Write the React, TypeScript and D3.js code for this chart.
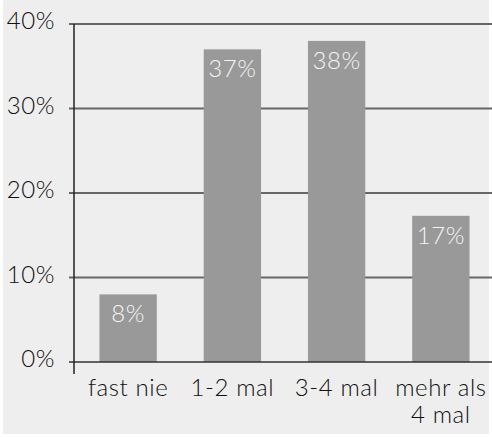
import React from "react";
import * as d3 from "d3";

const categories: string[][] = [["fast nie"], ["1-2 mal"], ["3-4 mal"], ["mehr als", "4 mal"]];
const values: number[] = [8, 37, 38, 17.3];
const valueLabels: string[] = ["8%", "37%", "38%", "17%"];
const yTicks: number[] = [0, 10, 20, 30, 40];

const W = 492;
const H = 437;
const FONT = "Lato, 'Open Sans', sans-serif";
const FS = 24;
const LS = 0.6;
const FW = 300;

export default function App() {
  const x = d3
    .scaleBand<number>()
    .domain(values.map((_, i) => i))
    .range([76, 493])
    .paddingInner(0.45)
    .paddingOuter(0.225);
  const y = d3.scaleLinear().domain([0, 40]).range([362, 24]);
  const axisX = 74;

  return (
    <svg
      width={W}
      height={H}
      style={{ position: "absolute", left: 0, top: 0, display: "block" }}
    >
      <rect x={0} y={0} width={W} height={H} fill="#ffffff" />
      <rect x={3} y={0} width={486} height={434} fill="#eeeeee" />
      {yTicks.slice(1).map((t) => (
        <line key={t} x1={axisX - 5} x2={W} y1={y(t)} y2={y(t)} stroke="#666666" strokeWidth={2} />
      ))}
      {values.map((v, i) => (
        <rect
          key={i}
          x={x(i)}
          y={y(v)}
          width={x.bandwidth()}
          height={y(0) - y(v)}
          fill="#999999"
        />
      ))}
      <line x1={axisX - 5} x2={W} y1={y(0)} y2={y(0)} stroke="#333333" strokeWidth={1.5} />
      <line x1={axisX} x2={axisX} y1={y(40)} y2={y(0) + 12} stroke="#222222" strokeWidth={1.5} />
      {yTicks.map((t) => (
        <text
          key={t}
          x={55}
          y={y(t) + 5}
          textAnchor="end"
          fontFamily={FONT}
          fontWeight={FW}
          fontSize={FS}
          letterSpacing={LS}
          fill="#111111"
        >
          {t + "%"}
        </text>
      ))}
      {values.map((v, i) => (
        <text
          key={i}
          x={(x(i) as number) + x.bandwidth() / 2}
          y={y(v) + 28}
          textAnchor="middle"
          fontFamily={FONT}
          fontWeight={FW}
          fontSize={FS}
          letterSpacing={LS}
          fill="#f4f4f4"
        >
          {valueLabels[i]}
        </text>
      ))}
      {categories.map((lines, i) =>
        lines.map((l, j) => (
          <text
            key={i + "-" + j}
            x={(x(i) as number) + x.bandwidth() / 2}
            y={396 + j * 27}
            textAnchor="middle"
            fontFamily={FONT}
            fontWeight={FW}
            fontSize={FS}
            letterSpacing={LS}
            fill="#111111"
          >
            {l}
          </text>
        ))
      )}
    </svg>
  );
}
